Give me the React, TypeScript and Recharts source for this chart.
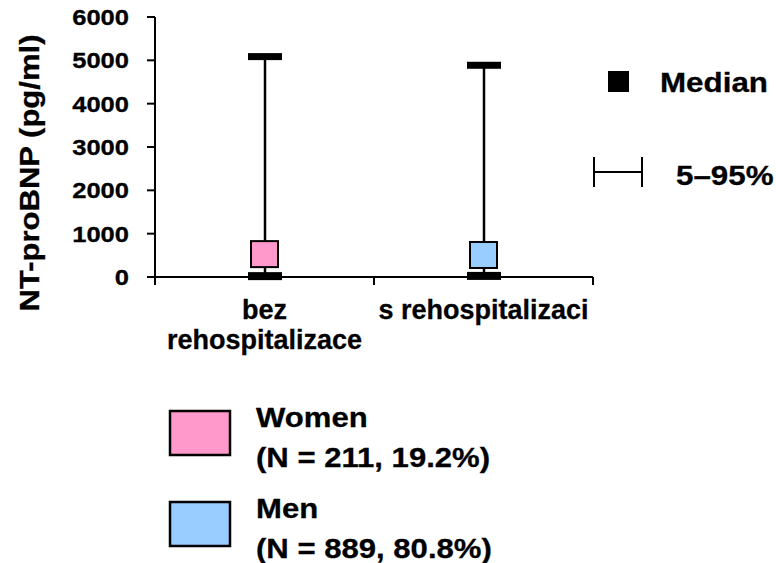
import React from "react";
import { ComposedChart, Bar, Scatter, XAxis, YAxis, Customized } from "recharts";

// Groups on the category axis and the statistics drawn for each
const categories = ["bez rehospitalizace", "s rehospitalizaci"];
const categoryLabelLines = [["bez", "rehospitalizace"], ["s rehospitalizaci"]];
const p5Values = [20, 25];
const medianValues = [528, 508];
const p95Values = [5086, 4886];
const groupColors = ["#FF99CC", "#99CCFF"];

const yTicks = [0, 1000, 2000, 3000, 4000, 5000, 6000];
const yAxisTitle = "NT-proBNP (pg/ml)";
const keyLabels = ["Median", "5–95%"];
const legendNames = ["Women", "Men"];
const legendCounts = ["(N = 211, 19.2%)", "(N = 889, 80.8%)"];

const data = categories.map((name, i) => ({
  name,
  range: [p5Values[i], p95Values[i]],
  median: medianValues[i],
  fill: groupColors[i],
  lines: categoryLabelLines[i],
}));

const W = 776;
const H = 563;
const FONT = "'Liberation Sans', Arial, Helvetica, sans-serif";

type TextProps = {
  x: number;
  y: number;
  size: number;
  sx?: number;
  anchor?: "start" | "middle" | "end";
  children: React.ReactNode;
};

const BoldText = ({ x, y, size, sx = 1, anchor = "start", children }: TextProps) => (
  <text
    transform={`translate(${x},${y}) scale(${sx},1)`}
    fontSize={size}
    fontWeight="bold"
    fontFamily={FONT}
    textAnchor={anchor}
    fill="#000"
    stroke="#000"
    strokeWidth={0.3}
  >
    {children}
  </text>
);

const ValueTick = (props: any) => {
  const { x, y, payload } = props;
  return (
    <BoldText x={x} y={y + 8} size={22} sx={1.16} anchor="end">
      {payload.value}
    </BoldText>
  );
};

const CategoryTick = (props: any) => {
  const { x, y, payload, index } = props;
  const half = payload.offset ?? 109.5;
  const axisY = y - 8;
  const lines: string[] = data[index]?.lines ?? [String(payload.value)];
  return (
    <g>
      <line x1={x - half} x2={x - half} y1={axisY} y2={axisY + 8} stroke="#000" strokeWidth={2} />
      <line x1={x + half} x2={x + half} y1={axisY} y2={axisY + 8} stroke="#000" strokeWidth={2} />
      {lines.map((t, k) => (
        <BoldText key={k} x={x} y={axisY + 42 + k * 30} size={27} anchor="middle">
          {t}
        </BoldText>
      ))}
    </g>
  );
};

const Whisker = (props: any) => {
  const { x, y, width, height } = props;
  const top = Math.min(y, y + height);
  const bottom = Math.max(y, y + height);
  const cx = x + width / 2;
  return (
    <g>
      <line x1={cx} x2={cx} y1={top} y2={bottom} stroke="#000" strokeWidth={2.5} />
      <rect x={x} y={top - 3.5} width={width} height={7} fill="#000" />
      <rect x={x} y={bottom - 4} width={width} height={8} fill="#000" />
    </g>
  );
};

const MedianBox = (props: any) => {
  const { cx, cy, payload } = props;
  return (
    <rect
      x={cx - 13.5}
      y={cy - 13}
      width={27}
      height={26}
      fill={payload.fill}
      stroke="#000"
      strokeWidth={2}
    />
  );
};

const Decorations = () => (
  <g>
    {/* axis title */}
    <text
      transform="translate(39,173) rotate(-90) scale(1.15,1)"
      fontSize={27}
      fontWeight="bold"
      fontFamily={FONT}
      textAnchor="middle"
      fill="#000"
      stroke="#000"
      strokeWidth={0.3}
    >
      {yAxisTitle}
    </text>

    {/* key for the markers */}
    <rect x={608} y={71} width={21} height={21} fill="#000" />
    <BoldText x={660} y={92} size={28} sx={1.12}>
      {keyLabels[0]}
    </BoldText>
    <line x1={594} x2={594} y1={157} y2={187} stroke="#000" strokeWidth={2} />
    <line x1={642} x2={642} y1={157} y2={187} stroke="#000" strokeWidth={2} />
    <line x1={594} x2={642} y1={172} y2={172} stroke="#000" strokeWidth={2} />
    <BoldText x={676} y={185} size={28} sx={1.12}>
      {keyLabels[1]}
    </BoldText>

    {/* group legend */}
    {legendNames.map((name, i) => {
      const top = 411 + i * 91;
      return (
        <g key={name}>
          <rect x={170} y={top} width={60} height={44} fill={groupColors[i]} stroke="#000" strokeWidth={2.5} />
          <BoldText x={256} y={top + 16} size={28} sx={1.11}>
            {name}
          </BoldText>
          <BoldText x={256} y={top + 56} size={28} sx={1.11}>
            {legendCounts[i]}
          </BoldText>
        </g>
      );
    })}
  </g>
);

export default function App() {
  return (
    <div style={{ position: "absolute", left: 0, top: 0, width: W, height: H, background: "#fff" }}>
      <ComposedChart
        width={W}
        height={H}
        data={data}
        margin={{ top: 17, right: 183, bottom: 246, left: 55 }}
      >
        <XAxis
          dataKey="name"
          type="category"
          height={40}
          interval={0}
          axisLine={{ stroke: "#000", strokeWidth: 2 }}
          tickLine={false}
          tickSize={8}
          tickMargin={0}
          tick={<CategoryTick />}
        />
        <YAxis
          type="number"
          domain={[0, 6000]}
          ticks={yTicks}
          interval={0}
          width={100}
          axisLine={{ stroke: "#000", strokeWidth: 2 }}
          tickLine={{ stroke: "#000", strokeWidth: 2 }}
          tickSize={8}
          tickMargin={18}
          tick={<ValueTick />}
        />
        <Bar dataKey="range" barSize={34} shape={<Whisker />} isAnimationActive={false} />
        <Scatter dataKey="median" shape={<MedianBox />} isAnimationActive={false} />
        <Customized component={<Decorations />} />
      </ComposedChart>
    </div>
  );
}
